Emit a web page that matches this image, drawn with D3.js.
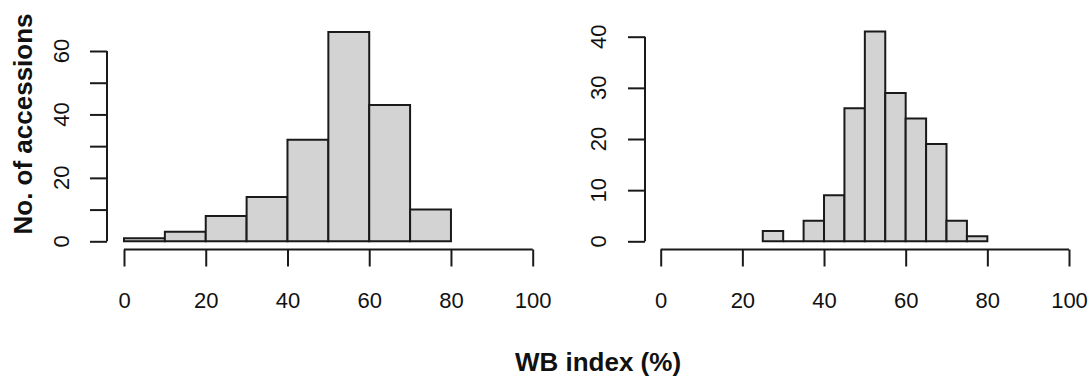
<!DOCTYPE html>
<html>
<head>
<meta charset="utf-8">
<script src="https://cdn.jsdelivr.net/npm/d3@7"></script>
<style>
  html, body { margin: 0; padding: 0; background: #fff; }
  svg { display: block; }
  text { font-family: "Liberation Sans", Arial, sans-serif; fill: #111; }
</style>
</head>
<body>
<svg id="chart" width="1092" height="381"></svg>
<script>
// Histogram of WB index, panel A: bins of width 10
const binsA = [0, 10, 20, 30, 40, 50, 60, 70, 80];
const countsA = [1, 3, 8, 14, 32, 66, 43, 10];
const yTicksA = [0, 10, 20, 30, 40, 50, 60];
const yLabelsA = [0, 20, 40, 60];

// Panel B: bins of width 5
const binsB = [25, 30, 35, 40, 45, 50, 55, 60, 65, 70, 75, 80];
const countsB = [2, 0, 4, 9, 26, 41, 29, 24, 19, 4, 1];
const yTicksB = [0, 10, 20, 30, 40];
const yLabelsB = [0, 10, 20, 30, 40];

const xTicks = [0, 20, 40, 60, 80, 100];

const yTitle = "No. of accessions";
const xTitle = "WB index (%)";

const svg = d3.select("#chart");
const ink = "#1a1a1a";
const tickFont = 22;

function panel(cfg) {
  const x = d3.scaleLinear().domain([0, 100]).range(cfg.xRange);
  const y = d3.scaleLinear().domain([0, cfg.yMax]).range(cfg.yRange);
  const g = svg.append("g");

  // bars as closed paths, so empty bins still show as a line on the baseline
  const bars = cfg.counts.map((c, i) => ({ x0: cfg.bins[i], x1: cfg.bins[i + 1], n: c }));
  g.selectAll("path.bar").data(bars).join("path")
    .attr("class", "bar")
    .attr("d", d => {
      const p = d3.path();
      p.rect(x(d.x0), y(d.n), x(d.x1) - x(d.x0), y(0) - y(d.n));
      return p.toString();
    })
    .attr("fill", "#d3d3d3")
    .attr("stroke", ink)
    .attr("stroke-width", 2);

  // x axis
  const xAxis = d3.axisBottom(x).tickValues(xTicks).tickSize(17).tickPadding(26).tickFormat(d3.format("d"));
  const gx = g.append("g").attr("transform", `translate(0,${cfg.xAxisY})`).call(xAxis);
  gx.select(".domain").attr("d", `M${x(0)},0H${x(100)}`);

  // y axis
  const yAxis = d3.axisLeft(y).tickValues(cfg.yTicks).tickSize(17).tickFormat("");
  const gy = g.append("g").attr("transform", `translate(${cfg.yAxisX},0)`).call(yAxis);
  gy.select(".domain").attr("d", `M0,${y(0)}V${y(cfg.yTicks[cfg.yTicks.length - 1])}`);

  [gx, gy].forEach(a => {
    a.selectAll("path, line").attr("stroke", ink).attr("stroke-width", 2);
    a.selectAll("text").attr("font-size", tickFont).attr("fill", "#111")
      .attr("font-family", "'Liberation Sans', Arial, sans-serif");
  });

  // rotated y tick labels
  g.selectAll("text.ylab").data(cfg.yLabels).join("text")
    .attr("class", "ylab")
    .attr("transform", d => `translate(${cfg.yLabelX},${y(d)}) rotate(-90)`)
    .attr("text-anchor", "middle")
    .attr("dy", "0.35em")
    .attr("font-size", tickFont)
    .text(d => d);
}

panel({
  bins: binsA, counts: countsA, yMax: 60, yTicks: yTicksA, yLabels: yLabelsA,
  xRange: [124, 532.7], yRange: [241.3, 51.0],
  xAxisY: 249.5, yAxisX: 107, yLabelX: 61
});

panel({
  bins: binsB, counts: countsB, yMax: 40, yTicks: yTicksB, yLabels: yLabelsB,
  xRange: [660.7, 1069], yRange: [241.3, 36.7],
  xAxisY: 249.5, yAxisX: 645, yLabelX: 598
});

// axis titles
svg.append("text")
  .attr("transform", "translate(32,124) rotate(-90)")
  .attr("text-anchor", "middle")
  .attr("font-size", 26)
  .attr("font-weight", "bold")
  .attr("fill", "#000")
  .text(yTitle);

svg.append("text")
  .attr("x", 598).attr("y", 371)
  .attr("text-anchor", "middle")
  .attr("font-size", 26)
  .attr("font-weight", "bold")
  .attr("fill", "#000")
  .text(xTitle);
</script>
</body>
</html>
